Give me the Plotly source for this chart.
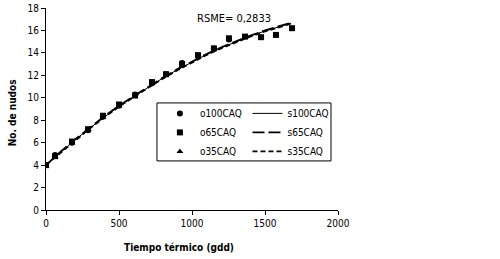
import plotly.graph_objects as go

# Observed data (x = thermal time, gdd)
x_obs = [0, 62, 178, 288, 390, 500, 610, 726, 822, 932, 1041, 1150, 1253, 1363, 1473, 1575, 1685]
o65 = [4.0, 4.8, 6.1, 7.2, 8.4, 9.4, 10.2, 11.4, 12.1, 13.0, 13.8, 14.4, 15.3, 15.45, 15.4, 15.6, 16.2]
x_obs100 = [0, 62, 178, 288, 390, 500, 610, 726, 822, 932, 1041, 1150, 1253]
o100 = [4.0, 4.9, 6.0, 7.1, 8.3, 9.3, 10.3, 11.3, 12.1, 13.1, 13.7, 14.4, 15.2]
x_obs35 = [0, 62, 178, 288, 390, 500]
o35 = [3.9, 4.7, 6.0, 7.2, 8.3, 9.3]

# Simulated curves
x_sim = [0, 100, 200, 300, 400, 500, 600, 700, 800, 900, 1000, 1100, 1200, 1300, 1400, 1500, 1600, 1680]
s100 = [4.0, 5.15, 6.25, 7.3, 8.3, 9.25, 10.1, 10.95, 11.75, 12.5, 13.2, 13.85, 14.45, 15.0, 15.5, 15.95, 16.35, 16.65]
s65 = [4.0, 5.2, 6.3, 7.35, 8.35, 9.3, 10.15, 11.0, 11.8, 12.55, 13.25, 13.9, 14.5, 15.05, 15.55, 16.0, 16.4, 16.7]
s35 = [4.0, 5.1, 6.2, 7.25, 8.25, 9.2, 10.05, 10.9, 11.7, 12.45, 13.15, 13.8, 14.4, 14.95, 15.45, 15.9, 16.3, 16.6]

x_ticks = [0, 500, 1000, 1500, 2000]
y_ticks = [0, 2, 4, 6, 8, 10, 12, 14, 16, 18]

FONT = "Liberation Sans Narrow, DejaVu Sans Condensed, Arial Narrow, Arial, sans-serif"

fig = go.Figure()
fig.add_trace(go.Scatter(x=x_obs100, y=o100, mode="markers", name="o100CAQ", legend="legend",
                         marker=dict(symbol="circle", size=6, color="black")))
fig.add_trace(go.Scatter(x=x_obs, y=o65, mode="markers", name="o65CAQ", legend="legend",
                         marker=dict(symbol="square", size=6, color="black")))
fig.add_trace(go.Scatter(x=x_obs35, y=o35, mode="markers", name="o35CAQ", legend="legend",
                         marker=dict(symbol="triangle-up", size=6, color="black")))
fig.add_trace(go.Scatter(x=x_sim, y=s100, mode="lines", name="s100CAQ", legend="legend2",
                         line=dict(color="black", width=1, dash="solid")))
fig.add_trace(go.Scatter(x=x_sim, y=s65, mode="lines", name="s65CAQ", legend="legend2",
                         line=dict(color="black", width=1.8, dash="12px,4px")))
fig.add_trace(go.Scatter(x=x_sim, y=s35, mode="lines", name="s35CAQ", legend="legend2",
                         line=dict(color="black", width=1.6, dash="5px,3px")))

fig.add_annotation(x=1020, y=17.1, text="RSME= 0,2833", showarrow=False,
                   xanchor="left", yanchor="middle", font=dict(size=11, color="black", family=FONT))

# axis titles
fig.add_annotation(xref="paper", yref="paper", x=0.455, y=-0.188, text="<b>Tiempo térmico (gdd)</b>",
                   showarrow=False, xanchor="center", yanchor="middle",
                   font=dict(size=10, color="black", family=FONT))
fig.add_annotation(xref="paper", yref="paper", x=-0.116, y=0.48, text="<b>No. de nudos</b>",
                   showarrow=False, xanchor="center", yanchor="middle", textangle=-90,
                   font=dict(size=10, color="black", family=FONT))

# legend box
fig.add_shape(type="rect", xref="paper", yref="paper", x0=0.38, x1=0.976, y0=0.243, y1=0.53,
              line=dict(color="black", width=1), fillcolor="rgba(0,0,0,0)", layer="above")

leg_common = dict(orientation="v", yanchor="top", xanchor="left", xref="paper", yref="paper",
                  bgcolor="rgba(0,0,0,0)", borderwidth=0, font=dict(size=10, family=FONT),
                  tracegroupgap=0, itemwidth=30)

fig.update_layout(
    width=500, height=259,
    margin=dict(l=46, r=162, t=8, b=49),
    paper_bgcolor="white", plot_bgcolor="white",
    font=dict(family=FONT, size=10, color="black"),
    showlegend=True,
    legend=dict(x=0.39, y=0.55, **leg_common),
    legend2=dict(x=0.69, y=0.55, **leg_common),
    xaxis=dict(range=[0, 2000], tickvals=x_ticks, showgrid=False, zeroline=False,
               showline=True, linecolor="black", linewidth=1, automargin=False,
               ticks="outside", ticklen=4, tickcolor="black",
               tickfont=dict(size=10, family=FONT)),
    yaxis=dict(range=[0, 18], tickvals=y_ticks, showgrid=False, zeroline=False,
               showline=True, linecolor="black", linewidth=1, automargin=False,
               ticks="outside", ticklen=4, tickcolor="black",
               tickfont=dict(size=10, family=FONT)),
)

fig.write_html("out.html", config={"displayModeBar": False},
               post_script="document.body.style.margin='0';document.body.style.overflow='hidden';")
